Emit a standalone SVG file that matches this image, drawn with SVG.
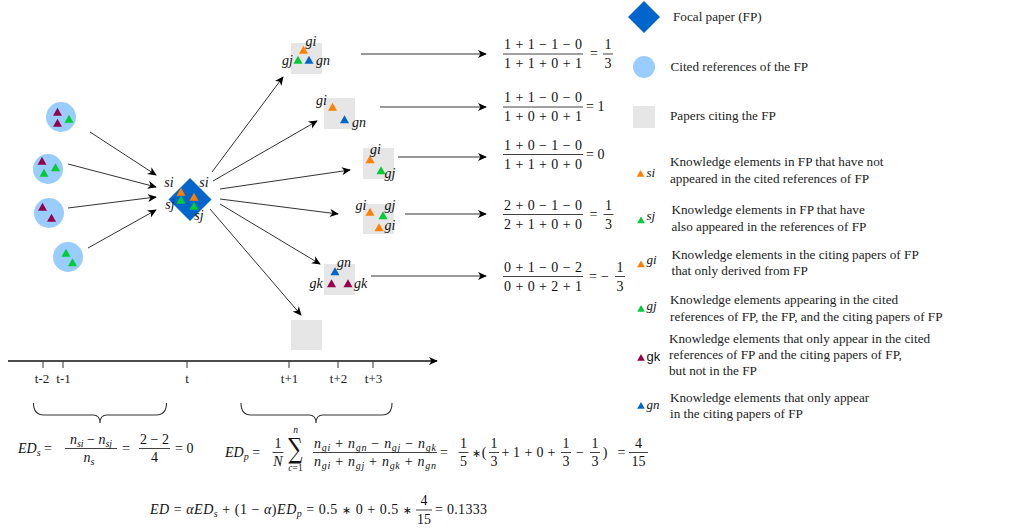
<svg xmlns="http://www.w3.org/2000/svg" xmlns:xlink="http://www.w3.org/1999/xlink" width="1024" height="532" viewBox="0 0 1024 532">
<defs>
<style>
.m{font-family:"Liberation Serif","Times New Roman",serif;font-size:14px;fill:#111}
.i{font-style:italic}
.sb{font-size:10px;font-style:italic}
.sm{font-size:9.5px}
.ast{font-family:"DejaVu Sans",sans-serif;font-size:11px}
.lb{font-family:"Liberation Serif",serif;font-style:italic;font-size:14px;fill:#111}
.lg{font-family:"Liberation Serif",serif;font-size:13.2px;fill:#222}
.ax{font-family:"Liberation Serif",serif;font-size:13px;fill:#222}
.bar{stroke:#111;stroke-width:0.8}
.ln{stroke:#333;stroke-width:1;fill:none;marker-end:url(#ah)}
.br{stroke:#333;stroke-width:1.1;fill:none}
.or{fill:#FF8000}.gr{fill:#00CC33}.mr{fill:#99004C}.bl{fill:#0066CC}
.cir{fill:#99CCFF}
.box{fill:#E6E6E6}
.mid{text-anchor:middle}
</style>
<marker id="ah" viewBox="0 0 10 10" refX="9" refY="5" markerWidth="9" markerHeight="9" markerUnits="userSpaceOnUse" orient="auto">
<path d="M0,0.5 L10,5 L0,9.5 L2.8,5 z" fill="#000"/>
</marker>
<path id="t" d="M0,-4.2 L4.5,3.7 L-4.5,3.7 z"/>
</defs>
<rect width="1024" height="532" fill="#fff"/>

<!-- connectors -->
<g id="connectors">
<line class="ln" x1="90" y1="132" x2="156" y2="175"/>
<line class="ln" x1="68" y1="164" x2="156" y2="187"/>
<line class="ln" x1="68" y1="208" x2="156" y2="197"/>
<line class="ln" x1="88" y1="248" x2="156" y2="210"/>
<line class="ln" x1="212" y1="172" x2="283" y2="77"/>
<line class="ln" x1="213" y1="181" x2="317" y2="121"/>
<line class="ln" x1="220" y1="189" x2="350" y2="170"/>
<line class="ln" x1="220" y1="199" x2="338" y2="214"/>
<line class="ln" x1="220" y1="204" x2="320" y2="264"/>
<line class="ln" x1="210" y1="209" x2="301" y2="315"/>
<line class="ln" x1="361" y1="54" x2="486" y2="54"/>
<line class="ln" x1="380" y1="107" x2="486" y2="107"/>
<line class="ln" x1="398" y1="157" x2="486" y2="157"/>
<line class="ln" x1="405" y1="214" x2="486" y2="214"/>
<line class="ln" x1="371" y1="276" x2="486" y2="276"/>
</g>

<!-- cited references -->
<g id="ref1">
<circle class="cir" cx="61" cy="117" r="15"/>
<use xlink:href="#t" x="57.5" y="112" class="mr"/>
<use xlink:href="#t" x="57.5" y="123" class="mr"/>
<use xlink:href="#t" x="69" y="119" class="gr"/>
</g>
<g id="ref2">
<circle class="cir" cx="48" cy="169" r="15"/>
<use xlink:href="#t" x="42" y="161" class="mr"/>
<use xlink:href="#t" x="55.5" y="167.5" class="gr"/>
<use xlink:href="#t" x="44" y="173" class="gr"/>
</g>
<g id="ref3">
<circle class="cir" cx="49" cy="213" r="15"/>
<use xlink:href="#t" x="42.5" y="207" class="mr"/>
<use xlink:href="#t" x="51.5" y="218" class="mr"/>
</g>
<g id="ref4">
<circle class="cir" cx="68" cy="257" r="15"/>
<use xlink:href="#t" x="66" y="253" class="gr"/>
<use xlink:href="#t" x="72.5" y="262.5" class="gr"/>
</g>

<!-- focal paper -->
<g id="focal">
<polygon points="190,178 211.5,199.5 190,221 168.5,199.5" fill="#0066CC"/>
<use xlink:href="#t" x="181" y="192" class="or"/>
<use xlink:href="#t" x="181" y="200" class="gr"/>
<use xlink:href="#t" x="194" y="197" class="or"/>
<use xlink:href="#t" x="194" y="206" class="gr"/>
<text class="lb mid" x="169" y="187">si</text>
<text class="lb mid" x="204" y="187">si</text>
<text class="lb mid" x="170" y="209">sj</text>
<text class="lb mid" x="199" y="220">sj</text>
</g>

<!-- citing papers -->
<g id="cite1">
<rect class="box" x="291" y="43" width="31" height="31"/>
<use xlink:href="#t" x="303.5" y="50" class="or"/>
<use xlink:href="#t" x="298" y="60" class="gr"/>
<use xlink:href="#t" x="309" y="60" class="bl"/>
<text class="lb mid" x="311" y="46">gi</text>
<text class="lb mid" x="287.5" y="64.5">gj</text>
<text class="lb mid" x="323" y="64.5">gn</text>
</g>
<g id="cite2">
<rect class="box" x="324" y="98" width="31" height="31"/>
<use xlink:href="#t" x="332.5" y="107" class="or"/>
<use xlink:href="#t" x="344.5" y="119.5" class="bl"/>
<text class="lb mid" x="321.5" y="105">gi</text>
<text class="lb mid" x="359" y="127">gn</text>
</g>
<g id="cite3">
<rect class="box" x="363" y="148" width="31" height="31"/>
<use xlink:href="#t" x="370" y="159.5" class="or"/>
<use xlink:href="#t" x="381" y="170.5" class="gr"/>
<text class="lb mid" x="375.5" y="153.5">gi</text>
<text class="lb mid" x="390" y="178">gj</text>
</g>
<g id="cite4">
<rect class="box" x="363" y="204" width="31" height="30"/>
<use xlink:href="#t" x="370" y="212" class="or"/>
<use xlink:href="#t" x="383" y="215.5" class="gr"/>
<use xlink:href="#t" x="379" y="227.5" class="or"/>
<text class="lb mid" x="361" y="210">gi</text>
<text class="lb mid" x="390" y="210">gj</text>
<text class="lb mid" x="390" y="230">gi</text>
</g>
<g id="cite5">
<rect class="box" x="324" y="264" width="31" height="31"/>
<use xlink:href="#t" x="335" y="271.5" class="bl"/>
<use xlink:href="#t" x="331.5" y="283.5" class="mr"/>
<use xlink:href="#t" x="348" y="283.5" class="mr"/>
<text class="lb mid" x="344" y="267">gn</text>
<text class="lb mid" x="316" y="287.5">gk</text>
<text class="lb mid" x="360.5" y="287.5">gk</text>
</g>
<g id="cite6">
<rect class="box" x="291" y="320" width="31" height="30"/>
</g>

<!-- right-hand fractions -->
<g id="ratios" class="m">
<text class="mid" x="543" y="49" textLength="78" lengthAdjust="spacing">1 + 1 − 1 − 0</text>
<line class="bar" x1="503" y1="54" x2="583" y2="54"/>
<text class="mid" x="543" y="68" textLength="78" lengthAdjust="spacing">1 + 1 + 0 + 1</text>
<text class="mid" x="594" y="58">=</text>
<text class="mid" x="608" y="49">1</text>
<line class="bar" x1="603" y1="54" x2="613" y2="54"/>
<text class="mid" x="608" y="68">3</text>

<text class="mid" x="543" y="102" textLength="78" lengthAdjust="spacing">1 + 1 − 0 − 0</text>
<line class="bar" x1="503" y1="107" x2="583" y2="107"/>
<text class="mid" x="543" y="121" textLength="78" lengthAdjust="spacing">1 + 0 + 0 + 1</text>
<text x="586" y="111">= 1</text>

<text class="mid" x="543" y="150" textLength="78" lengthAdjust="spacing">1 + 0 − 1 − 0</text>
<line class="bar" x1="503" y1="154.5" x2="583" y2="154.5"/>
<text class="mid" x="543" y="169" textLength="78" lengthAdjust="spacing">1 + 1 + 0 + 0</text>
<text x="586" y="158.5">= 0</text>

<text class="mid" x="543" y="210" textLength="78" lengthAdjust="spacing">2 + 0 − 1 − 0</text>
<line class="bar" x1="503" y1="214.5" x2="583" y2="214.5"/>
<text class="mid" x="543" y="229" textLength="78" lengthAdjust="spacing">2 + 1 + 0 + 0</text>
<text class="mid" x="593.5" y="218.5">=</text>
<text class="mid" x="608.5" y="210">1</text>
<line class="bar" x1="603.5" y1="214.5" x2="613.5" y2="214.5"/>
<text class="mid" x="608.5" y="229">3</text>

<text class="mid" x="543" y="272" textLength="78" lengthAdjust="spacing">0 + 1 − 0 − 2</text>
<line class="bar" x1="503" y1="276.5" x2="583" y2="276.5"/>
<text class="mid" x="543" y="291" textLength="78" lengthAdjust="spacing">0 + 0 + 2 + 1</text>
<text class="mid" x="593" y="280.5">=</text>
<text class="mid" x="605" y="280.5">−</text>
<text class="mid" x="620" y="272">1</text>
<line class="bar" x1="615" y1="276.5" x2="625" y2="276.5"/>
<text class="mid" x="620" y="291">3</text>
</g>

<!-- timeline -->
<g id="timeline">
<line class="ln" x1="8" y1="361" x2="437" y2="361" style="stroke:#111;stroke-width:1.3"/>
<path d="M43,361V368M63,361V368M187,361V368M289,361V368M338,361V368M373,361V368" stroke="#333" stroke-width="1"/>
<text class="ax mid" x="42" y="383">t-2</text>
<text class="ax mid" x="63.5" y="383">t-1</text>
<text class="ax mid" x="187" y="383">t</text>
<text class="ax mid" x="289.5" y="383">t+1</text>
<text class="ax mid" x="338.5" y="383">t+2</text>
<text class="ax mid" x="373.5" y="383">t+3</text>
<path class="br" d="M33.5,403 Q33.5,415 44,415 L93,415 Q100,415 100,423 Q100,415 107,415 L156,415 Q166.5,415 166.5,403"/>
<path class="br" d="M241,403 Q241,415 251,415 L309,415 Q316,415 316,423 Q316,415 323,415 L382,415 Q392,415 392,403"/>
</g>

<!-- ED_s -->
<g id="eds" class="m">
<text x="18" y="452.5"><tspan class="i">ED</tspan><tspan class="sb" dy="3">s</tspan><tspan dy="-3"> =</tspan></text>
<text class="mid" x="91" y="443.5"><tspan class="i">n</tspan><tspan class="sb" dy="3">si</tspan><tspan dy="-3"> − </tspan><tspan class="i">n</tspan><tspan class="sb" dy="3">sj</tspan></text>
<line class="bar" x1="65" y1="448.5" x2="117" y2="448.5"/>
<text class="mid" x="89" y="462"><tspan class="i">n</tspan><tspan class="sb" dy="3">s</tspan></text>
<text class="mid" x="126" y="452.5">=</text>
<text class="mid" x="154.5" y="443.5">2 − 2</text>
<line class="bar" x1="139" y1="448.5" x2="170" y2="448.5"/>
<text class="mid" x="154.5" y="462">4</text>
<text x="175" y="452.5">= 0</text>
</g>

<!-- ED_p -->
<g id="edp" class="m">
<text x="225" y="456.5"><tspan class="i">ED</tspan><tspan class="sb" dy="3">p</tspan><tspan dy="-3"> =</tspan></text>
<text class="mid" x="278" y="447.5">1</text>
<line class="bar" x1="272.5" y1="452.5" x2="283.5" y2="452.5"/>
<text class="mid i" x="278" y="466">N</text>
<text class="mid" transform="translate(295.5,458) scale(1,1.4)" style="font-family:'DejaVu Serif',serif;font-size:20px">∑</text>
<text class="mid sb" x="295.5" y="433" style="font-size:9.5px">n</text>
<text class="mid sm" x="295.5" y="471"><tspan class="i">c</tspan>=1</text>
<text class="mid" x="375" y="447.5" textLength="122" lengthAdjust="spacing"><tspan class="i">n</tspan><tspan class="sb" dy="3">gi</tspan><tspan dy="-3"> + </tspan><tspan class="i">n</tspan><tspan class="sb" dy="3">gn</tspan><tspan dy="-3"> − </tspan><tspan class="i">n</tspan><tspan class="sb" dy="3">gj</tspan><tspan dy="-3"> − </tspan><tspan class="i">n</tspan><tspan class="sb" dy="3">gk</tspan></text>
<line class="bar" x1="313" y1="452.5" x2="437" y2="452.5"/>
<text class="mid" x="375" y="466" textLength="122" lengthAdjust="spacing"><tspan class="i">n</tspan><tspan class="sb" dy="3">gi</tspan><tspan dy="-3"> + </tspan><tspan class="i">n</tspan><tspan class="sb" dy="3">gj</tspan><tspan dy="-3"> + </tspan><tspan class="i">n</tspan><tspan class="sb" dy="3">gk</tspan><tspan dy="-3"> + </tspan><tspan class="i">n</tspan><tspan class="sb" dy="3">gn</tspan></text>
<text class="mid" x="444" y="456.5">=</text>
<text class="mid" x="463.5" y="447.5">1</text><line class="bar" x1="458.5" y1="452.5" x2="468.5" y2="452.5"/><text class="mid" x="463.5" y="466">5</text>
<text class="mid ast" x="476.5" y="457">∗</text>
<text class="mid" x="484" y="456.5">(</text>
<text class="mid" x="494" y="447.5">1</text><line class="bar" x1="489" y1="452.5" x2="499" y2="452.5"/><text class="mid" x="494" y="466">3</text>
<text class="mid" x="505.5" y="456.5">+</text>
<text class="mid" x="516.5" y="456.5">1</text>
<text class="mid" x="528.5" y="456.5">+</text>
<text class="mid" x="540" y="456.5">0</text>
<text class="mid" x="551.5" y="456.5">+</text>
<text class="mid" x="566" y="447.5">1</text><line class="bar" x1="561" y1="452.5" x2="571" y2="452.5"/><text class="mid" x="566" y="466">3</text>
<text class="mid" x="580" y="456.5">−</text>
<text class="mid" x="595" y="447.5">1</text><line class="bar" x1="590" y1="452.5" x2="600" y2="452.5"/><text class="mid" x="595" y="466">3</text>
<text class="mid" x="605" y="456.5">)</text>
<text class="mid" x="621.5" y="456.5">=</text>
<text class="mid" x="638.5" y="447.5">4</text><line class="bar" x1="629" y1="452.5" x2="648" y2="452.5"/><text class="mid" x="638.5" y="466">15</text>
</g>

<!-- ED -->
<g id="ed" class="m">
<text x="150" y="514" textLength="262" lengthAdjust="spacing"><tspan class="i">ED</tspan> = <tspan class="i">αED</tspan><tspan class="sb" dy="3">s</tspan><tspan dy="-3"> + (1 − </tspan><tspan class="i">α</tspan>)<tspan class="i">ED</tspan><tspan class="sb" dy="3">p</tspan><tspan dy="-3"> = 0.5 </tspan><tspan class="ast">∗</tspan> 0 + 0.5 <tspan class="ast">∗</tspan></text>
<text class="mid" x="424" y="505">4</text>
<line class="bar" x1="416" y1="510" x2="432" y2="510"/>
<text class="mid" x="424" y="523.5">15</text>
<text x="435" y="514" textLength="52" lengthAdjust="spacing">= 0.1333</text>
</g>

<!-- legend -->
<g id="legend-fp">
<polygon points="644,1 660,17 644,33 628,17" fill="#0066CC"/>
<text class="lg" x="673" y="21">Focal paper (FP)</text>
</g>
<g id="legend-ref">
<circle class="cir" cx="644" cy="67" r="11"/>
<text class="lg" x="670.5" y="71">Cited references of the FP</text>
</g>
<g id="legend-cite">
<rect class="box" x="633" y="106" width="22" height="22"/>
<text class="lg" x="670" y="120">Papers citing the FP</text>
</g>
<g id="legend-si">
<use xlink:href="#t" transform="translate(640.5,173.5) scale(0.85)" class="or"/>
<text class="lb" x="646.5" y="177" style="font-size:13px">si</text>
<text class="lg" x="670" y="166">Knowledge elements in FP that have not</text>
<text class="lg" x="670" y="182.5">appeared in the cited references of FP</text>
</g>
<g id="legend-sj">
<use xlink:href="#t" transform="translate(641,220) scale(0.85)" class="gr"/>
<text class="lb" x="646.5" y="220" style="font-size:13px">sj</text>
<text class="lg" x="671.5" y="214">Knowledge elements in FP that have</text>
<text class="lg" x="671.5" y="230.5">also appeared in the references of FP</text>
</g>
<g id="legend-gi">
<use xlink:href="#t" transform="translate(641,264) scale(0.85)" class="or"/>
<text class="lb" x="646.5" y="264" style="font-size:13px">gi</text>
<text class="lg" x="671.5" y="259">Knowledge elements in the citing papers of FP</text>
<text class="lg" x="671.5" y="275">that only derived from FP</text>
</g>
<g id="legend-gj">
<use xlink:href="#t" transform="translate(641,308.5) scale(0.85)" class="gr"/>
<text class="lb" x="646.5" y="310" style="font-size:13px">gj</text>
<text class="lg" x="670" y="303.5">Knowledge elements appearing in the cited</text>
<text class="lg" x="670" y="320.5">references of FP, the FP, and the citing papers of FP</text>
</g>
<g id="legend-gk">
<use xlink:href="#t" transform="translate(641,357.5) scale(0.85)" class="mr"/>
<text x="646.5" y="361" style="font-family:'Liberation Sans',sans-serif;font-size:13px;fill:#111">gk</text>
<text class="lg" x="669" y="342.5">Knowledge elements that only appear in the cited</text>
<text class="lg" x="669" y="359">references of FP and the citing papers of FP,</text>
<text class="lg" x="669" y="375">but not in the FP</text>
</g>
<g id="legend-gn">
<use xlink:href="#t" transform="translate(641,405.5) scale(0.85)" class="bl"/>
<text class="lb" x="646.5" y="408.5" style="font-size:13px">gn</text>
<text class="lg" x="670" y="401.5">Knowledge elements that only appear</text>
<text class="lg" x="670" y="418">in the citing papers of FP</text>
</g>
</svg>
